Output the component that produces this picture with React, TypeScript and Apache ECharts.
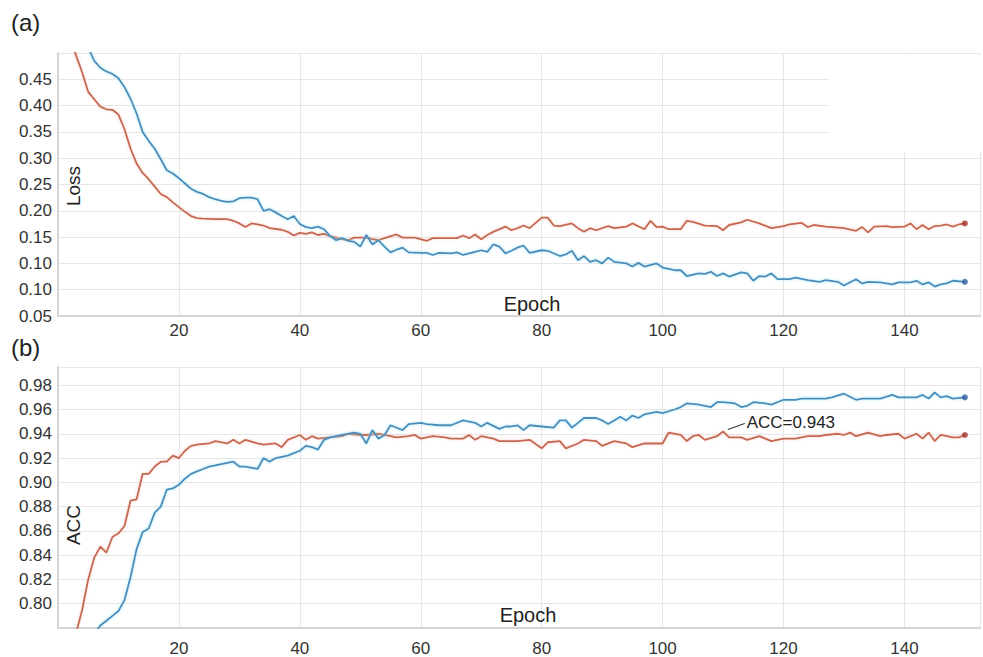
import React, { useEffect, useRef } from "react";
import * as echarts from "echarts";

// Panel (a) Loss — [epoch, value]
const lossRed: number[][] = [
  [1,0.56],[2,0.53],[3,0.495],[4,0.463],[5,0.426],[6,0.412],[7,0.398],[8,0.393],[9,0.392],[10,0.383],
  [11,0.355],[12,0.318],[13,0.29],[14,0.272],[15,0.26],[16,0.246],[17,0.232],[18,0.226],[19,0.216],[20,0.207],
  [21,0.198],[22,0.19],[23,0.186],[24,0.185],[26,0.184],[28,0.184],[29,0.181],[30,0.176],[31,0.169],[32,0.176],
  [33,0.174],[34,0.172],[35,0.167],[37,0.164],[38,0.16],[39,0.153],[40,0.158],[41,0.156],[42,0.159],[43,0.154],
  [44,0.156],[45,0.152],[46,0.149],[47,0.146],[48,0.144],[49,0.149],[51,0.149],[52,0.146],[53,0.144],[54,0.148],
  [56,0.155],[57,0.149],[59,0.149],[61,0.143],[62,0.148],[64,0.148],[66,0.148],[67,0.153],[68,0.148],[69,0.155],
  [70,0.146],[71,0.154],[72,0.16],[74,0.17],[75,0.163],[76,0.167],[77,0.172],[78,0.167],[80,0.187],[81,0.187],
  [82,0.172],[83,0.171],[85,0.176],[86,0.167],[87,0.16],[88,0.167],[89,0.163],[91,0.171],[92,0.167],[94,0.17],
  [95,0.176],[97,0.165],[98,0.181],[99,0.169],[100,0.17],[101,0.165],[103,0.165],[104,0.181],[105,0.179],[107,0.172],
  [109,0.171],[110,0.163],[111,0.173],[113,0.178],[114,0.183],[116,0.176],[118,0.167],[120,0.171],[121,0.174],[123,0.177],
  [124,0.169],[125,0.173],[127,0.17],[128,0.169],[130,0.167],[132,0.162],[133,0.169],[134,0.159],[135,0.17],[137,0.171],
  [138,0.169],[140,0.17],[141,0.176],[142,0.165],[143,0.173],[144,0.165],[145,0.171],[146,0.172],[147,0.174],[148,0.17],
  [149,0.174],[150,0.176]
];
const lossBlue: number[][] = [
  [1,0.62],[2,0.6],[3,0.565],[4,0.535],[5,0.51],[6,0.485],[7,0.472],[8,0.465],[9,0.46],[10,0.452],
  [11,0.435],[12,0.413],[13,0.385],[14,0.35],[15,0.333],[16,0.318],[17,0.298],[18,0.277],[19,0.271],[20,0.262],
  [21,0.252],[22,0.242],[23,0.236],[24,0.232],[25,0.226],[26,0.222],[27,0.219],[28,0.217],[29,0.218],[30,0.224],
  [31,0.225],[32,0.225],[33,0.222],[34,0.2],[35,0.203],[36,0.197],[37,0.19],[38,0.184],[39,0.19],[40,0.175],
  [41,0.169],[42,0.167],[43,0.17],[44,0.165],[45,0.152],[46,0.144],[47,0.148],[48,0.143],[49,0.141],[50,0.132],
  [51,0.154],[52,0.136],[53,0.144],[54,0.132],[55,0.121],[56,0.126],[57,0.13],[58,0.121],[60,0.12],[61,0.12],
  [62,0.116],[63,0.12],[65,0.119],[66,0.121],[67,0.116],[69,0.122],[70,0.125],[71,0.122],[72,0.136],[73,0.132],
  [74,0.119],[75,0.124],[76,0.13],[77,0.134],[78,0.12],[80,0.125],[81,0.124],[83,0.114],[84,0.117],[85,0.124],
  [86,0.106],[87,0.114],[88,0.103],[89,0.106],[90,0.1],[91,0.111],[92,0.103],[94,0.1],[95,0.094],[96,0.101],
  [97,0.094],[99,0.1],[100,0.092],[102,0.087],[103,0.087],[104,0.076],[106,0.081],[107,0.08],[108,0.084],[109,0.076],
  [110,0.081],[111,0.075],[113,0.083],[114,0.081],[115,0.067],[116,0.076],[117,0.075],[118,0.081],[119,0.07],[121,0.07],
  [122,0.073],[124,0.068],[126,0.065],[127,0.068],[129,0.065],[130,0.058],[132,0.07],[133,0.062],[134,0.065],[136,0.064],
  [138,0.06],[139,0.064],[141,0.064],[142,0.067],[143,0.06],[144,0.064],[145,0.056],[146,0.06],[147,0.062],[148,0.067],
  [150,0.065]
];

// Panel (b) ACC — [epoch, value]
const accRed: number[][] = [
  [1,0.72],[2,0.75],[3,0.776],[4,0.795],[5,0.82],[6,0.838],[7,0.847],[8,0.842],[9,0.855],[10,0.858],
  [11,0.864],[12,0.885],[13,0.886],[14,0.907],[15,0.907],[16,0.913],[17,0.917],[18,0.917],[19,0.922],[20,0.92],
  [21,0.926],[22,0.93],[23,0.931],[25,0.932],[26,0.934],[28,0.932],[29,0.935],[30,0.932],[31,0.935],[33,0.932],
  [34,0.931],[36,0.932],[37,0.929],[38,0.935],[40,0.939],[41,0.935],[42,0.938],[43,0.936],[45,0.937],[47,0.938],
  [48,0.94],[50,0.939],[51,0.939],[53,0.94],[54,0.939],[56,0.937],[58,0.938],[59,0.939],[60,0.936],[62,0.938],
  [64,0.937],[65,0.936],[67,0.936],[68,0.939],[69,0.935],[70,0.938],[72,0.936],[73,0.934],[76,0.934],[78,0.935],
  [80,0.928],[81,0.933],[83,0.934],[84,0.928],[86,0.932],[87,0.935],[89,0.934],[90,0.93],[92,0.934],[94,0.932],
  [95,0.929],[97,0.932],[98,0.932],[100,0.932],[101,0.941],[103,0.939],[104,0.934],[105,0.938],[106,0.939],[107,0.935],
  [109,0.938],[110,0.942],[111,0.937],[113,0.937],[114,0.935],[116,0.938],[117,0.936],[118,0.934],[120,0.936],[122,0.936],
  [124,0.938],[126,0.938],[127,0.939],[129,0.94],[130,0.939],[131,0.941],[132,0.938],[134,0.941],[136,0.938],[137,0.939],
  [139,0.94],[140,0.936],[142,0.94],[143,0.936],[144,0.941],[145,0.934],[146,0.939],[148,0.937],[149,0.937],[150,0.939]
];
const accBlue: number[][] = [
  [1,0.7],[2,0.72],[3,0.74],[4,0.755],[5,0.765],[6,0.775],[7,0.782],[8,0.786],[9,0.79],[10,0.794],
  [11,0.803],[12,0.822],[13,0.845],[14,0.859],[15,0.862],[16,0.875],[17,0.88],[18,0.894],[19,0.895],[20,0.898],
  [21,0.903],[22,0.907],[23,0.909],[24,0.911],[25,0.913],[27,0.915],[29,0.917],[30,0.913],[31,0.913],[33,0.911],
  [34,0.92],[35,0.917],[36,0.92],[38,0.922],[39,0.924],[40,0.926],[41,0.93],[42,0.929],[43,0.927],[44,0.935],
  [45,0.937],[46,0.938],[47,0.939],[49,0.941],[50,0.94],[51,0.932],[52,0.943],[53,0.936],[54,0.939],[55,0.947],
  [57,0.943],[58,0.948],[60,0.949],[61,0.948],[63,0.947],[65,0.947],[67,0.951],[69,0.949],[70,0.946],[71,0.949],
  [73,0.944],[74,0.946],[75,0.946],[76,0.947],[77,0.943],[78,0.947],[80,0.946],[82,0.945],[83,0.951],[84,0.951],
  [85,0.945],[86,0.949],[87,0.953],[89,0.953],[90,0.951],[91,0.948],[92,0.951],[93,0.954],[94,0.951],[95,0.955],
  [96,0.953],[97,0.956],[99,0.958],[100,0.957],[102,0.96],[103,0.962],[104,0.965],[106,0.964],[108,0.962],[109,0.966],
  [110,0.966],[112,0.965],[113,0.962],[114,0.963],[115,0.966],[117,0.965],[118,0.964],[120,0.968],[122,0.968],[123,0.969],
  [125,0.969],[127,0.969],[128,0.97],[130,0.973],[132,0.968],[133,0.969],[134,0.969],[136,0.969],[138,0.972],[139,0.97],
  [141,0.97],[142,0.97],[143,0.972],[144,0.969],[145,0.974],[146,0.97],[147,0.971],[148,0.969],[150,0.97]
];

const lossTickLabels = ["0.05", "0.10", "0.10", "0.15", "0.20", "0.25", "0.30", "0.35", "0.40", "0.45", ""];
const accTickLabels = ["", "0.80", "0.82", "0.84", "0.86", "0.88", "0.90", "0.92", "0.94", "0.96", "0.98", ""];
const annotationText = "ACC=0.943";
const annotationFrom = [110.8, 0.9435];
const annotationTo = [113.6, 0.9485];

const RED = "#c4674f";
const BLUE = "#4c8dba";
const RED_DOT = "#a5332b";
const BLUE_DOT = "#2e5f9d";
const FONT = "'Liberation Sans', Arial, sans-serif";

export default function App() {
  const ref = useRef<HTMLDivElement>(null);
  useEffect(() => {
    if (!ref.current) return;
    const chart = echarts.init(ref.current, null, { renderer: "svg" });
    const xAxisBase = (gridIndex: number, margin: number) => ({
      type: "value",
      gridIndex,
      min: 0,
      max: 152.5,
      interval: 20,
      axisLine: { show: true, lineStyle: { color: "#d4d4d4", width: 2 } },
      axisTick: { show: false },
      splitLine: { show: true, lineStyle: { color: "#e6e6e6", width: 1 } },
      axisLabel: {
        margin,
        fontSize: 17,
        color: "#333",
        fontFamily: FONT,
        formatter: (v: number) => (v === 0 || v > 150 ? "" : String(v)),
      },
    });
    const lineSeries = (data: number[][], color: string, xi: number, glow: string, extra: any = {}) => ({
      type: "line",
      xAxisIndex: xi,
      yAxisIndex: xi,
      data,
      showSymbol: false,
      symbol: "none",
      clip: true,
      lineStyle: { color, width: 1.8, shadowColor: glow, shadowBlur: 3 },
      z: 3,
      ...extra,
    });
    const dot = (data: number[][], color: string, xi: number) => ({
      type: "scatter",
      xAxisIndex: xi,
      yAxisIndex: xi,
      data: [data[data.length - 1]],
      symbol: "circle",
      symbolSize: 6,
      itemStyle: { color },
      z: 4,
    });
    chart.setOption({
      animation: false,
      backgroundColor: "#ffffff",
      grid: [
        { left: 58, top: 53, right: 0, height: 263, containLabel: false },
        { left: 58, top: 367, right: 0, height: 263.4, containLabel: false },
      ],
      xAxis: [xAxisBase(0, 6), xAxisBase(1, 12)],
      yAxis: [
        {
          type: "value",
          gridIndex: 0,
          min: 0,
          max: 0.5,
          interval: 0.05,
          axisLine: { show: true, lineStyle: { color: "#d4d4d4", width: 2 } },
          axisTick: { show: false },
          splitLine: { show: true, lineStyle: { color: "#e6e6e6", width: 1 } },
          axisLabel: {
            margin: 6,
            fontSize: 17,
            color: "#333",
            fontFamily: FONT,
            formatter: (v: number) => lossTickLabels[Math.round(v / 0.05)] ?? "",
          },
        },
        {
          type: "value",
          gridIndex: 1,
          min: 0.78,
          max: 0.995,
          interval: 0.02,
          axisLine: { show: true, lineStyle: { color: "#d4d4d4", width: 2 } },
          axisTick: { show: false },
          splitLine: { show: true, lineStyle: { color: "#e6e6e6", width: 1 } },
          axisLabel: {
            margin: 6,
            fontSize: 17,
            color: "#333",
            fontFamily: FONT,
            formatter: (v: number) => {
              if (v > 0.985) return "";
              return accTickLabels[Math.round((v - 0.78) / 0.02)] ?? "";
            },
          },
        },
      ],
      series: [
        lineSeries(lossRed, RED, 0, "rgba(250,190,180,0.7)"),
        lineSeries(lossBlue, BLUE, 0, "rgba(150,225,245,0.8)"),
        lineSeries(accRed, RED, 1, "rgba(250,190,180,0.7)", {
          markLine: {
            silent: true,
            symbol: ["arrow", "none"],
            symbolSize: [7, 0],
            lineStyle: { color: "#222", width: 1, type: "solid" },
            label: {
              show: true,
              position: "end",
              distance: 2,
              formatter: annotationText,
              color: "#222",
              fontSize: 17,
              fontFamily: FONT,
            },
            data: [[{ coord: annotationFrom }, { coord: annotationTo }]],
          },
        }),
        lineSeries(accBlue, BLUE, 1, "rgba(150,225,245,0.8)"),
        dot(lossRed, RED_DOT, 0),
        dot(lossBlue, BLUE_DOT, 0),
        dot(accRed, RED_DOT, 1),
        dot(accBlue, BLUE_DOT, 1),
      ],
      graphic: [
        { type: "rect", left: 829, top: 55, shape: { width: 160, height: 97 }, style: { fill: "#ffffff" }, z: 1 },
        { type: "text", left: 11, top: 10, style: { text: "(a)", fontSize: 24, fill: "#222", fontFamily: FONT } },
        { type: "text", left: 11, top: 335, style: { text: "(b)", fontSize: 24, fill: "#222", fontFamily: FONT } },
        { type: "text", x: 532, y: 304, style: { text: "Epoch", fontSize: 20, fill: "#222", fontFamily: FONT, align: "center", verticalAlign: "middle" }, z: 5 },
        { type: "text", x: 528, y: 615, style: { text: "Epoch", fontSize: 20, fill: "#222", fontFamily: FONT, align: "center", verticalAlign: "middle" }, z: 5 },
        { type: "text", x: 73, y: 186, rotation: Math.PI / 2, style: { text: "Loss", fontSize: 19, fill: "#222", fontFamily: FONT, align: "center", verticalAlign: "middle" }, z: 5 },
        { type: "text", x: 73, y: 525, rotation: Math.PI / 2, style: { text: "ACC", fontSize: 19, fill: "#222", fontFamily: FONT, align: "center", verticalAlign: "middle" }, z: 5 },
      ],
    });
    return () => chart.dispose();
  }, []);
  return <div ref={ref} style={{ position: "fixed", left: 0, top: 0, width: 983, height: 657 }} />;
}
